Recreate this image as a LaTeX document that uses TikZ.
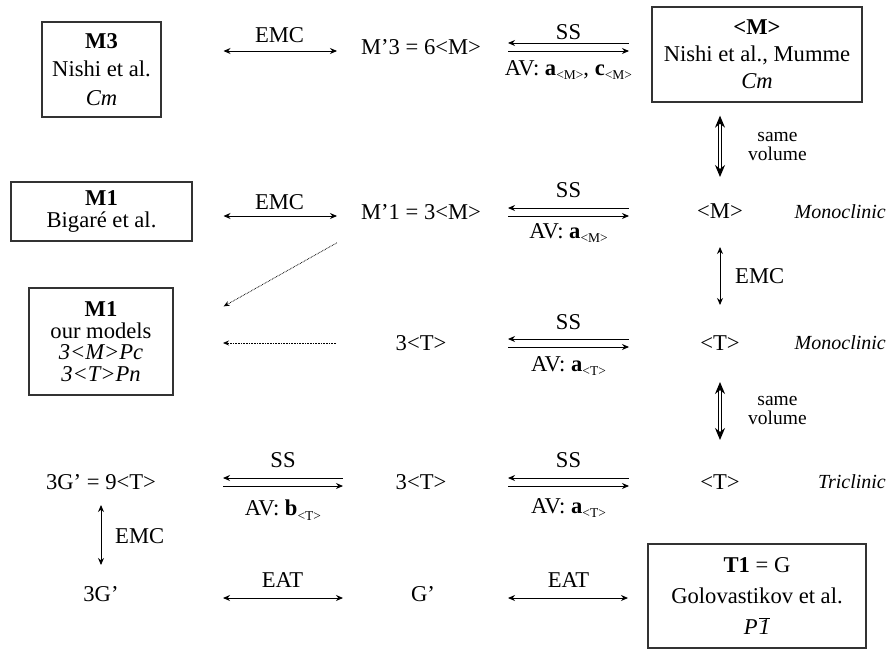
\documentclass[tikz,border=0pt]{standalone}
\usepackage{fontspec}
\setmainfont{Liberation Serif}
\usetikzlibrary{arrows.meta,positioning,calc}

\newcommand{\lsub}[1]{\raisebox{-4.5pt}{\fontsize{13.5}{14}\selectfont#1}}

\begin{document}
\begin{tikzpicture}[
    x=1pt, y=-1pt,
    every node/.style={font=\fontsize{22.6}{27}\selectfont, inner sep=1pt},
    box/.style={
        rectangle, draw=black!80, line width=1.3pt,
        align=center, inner sep=0pt
    },
    lbl/.style={inner sep=0pt},
    cls/.style={anchor=east, font=\fontsize{20}{24}\selectfont\itshape},
    vlbl/.style={anchor=west, align=center, inner sep=0pt},
    emc/.style={{Stealth[length=7pt,width=6pt]}-{Stealth[length=7pt,width=6pt]}, line width=0.9pt},
    ssl/.style={{Stealth[length=7pt,width=6pt]}-, line width=0.9pt},
    ssr/.style={-{Stealth[length=7pt,width=6pt]}, line width=0.9pt},
    vol/.style={{Stealth[length=12pt,width=10pt]}-{Stealth[length=12pt,width=10pt]},
        double, double distance=1.2pt, line width=1.2pt},
    dotarr/.style={-{Stealth[length=6pt,width=5pt]}, dash pattern=on 0.7pt off 0.9pt, line width=0.8pt},
    gapL/.style={shorten <=122pt, shorten >=84pt},
    gapR/.style={shorten <=87pt, shorten >=91pt},
]
\useasboundingbox (0,0) rectangle (893,650);

% Row 1: M3 / M'3 / <M> of Nishi
\node[box, minimum width=119pt, minimum height=95pt,
    font=\fontsize{22.6}{28.5}\selectfont] (m3) at (101.5,69.5)
    {\textbf{M3}\\Nishi et al.\\\textit{Cm}};
\node (mp3) at (421,47) {M’3 = 6<M>};
\node[box, minimum width=210pt, minimum height=95pt] (mavg) at (757,54.5)
    {\textbf{<M>}\\Nishi et al., Mumme\\\textit{Cm}};

% Row 2: Bigare / M'1 / <M>
\node[box, minimum width=181pt, minimum height=59pt,
    font=\fontsize{22.6}{21.5}\selectfont] (bigare) at (101.5,211.5)
    {\textbf{M1}\\Bigaré et al.};
\node (mp1) at (421,212) {M’1 = 3<M>};
\node (mM) at (720,211) {<M>};
\node[cls] (mono1) at (887,212) {Monoclinic};

% Row 3: our models / 3<T> / <T>
\node[box, minimum width=144pt, minimum height=107pt,
    font=\fontsize{22.6}{21.5}\selectfont] (models) at (101,341.5)
    {\textbf{M1}\\our models\\\textit{3<M>Pc}\\\textit{3<T>Pn}};
\node (t3) at (421,343) {3<T>};
\node (tM) at (720,343) {<T>};
\node[cls] (mono2) at (887,343) {Monoclinic};

% Row 4: 3G' / 3<T> / <T>
\node (g9) at (101,482) {3G’ = 9<T>};
\node (t4) at (421,482) {3<T>};
\node (tT) at (720,482) {<T>};
\node[cls] (tric) at (887,482) {Triclinic};

% Row 5: 3G' / G' / T1
\node (g3) at (101,594) {3G’};
\node (gp) at (423,594) {G’};
\node[box, minimum width=218pt, minimum height=104pt,
    font=\fontsize{22.6}{31}\selectfont] (t1) at (757,596)
    {\textbf{T1} = G\\Golovastikov et al.\\\textit{P}\kern1pt$\overline{\hbox{\textit{1}}}$};

% Labels
\node[lbl] (emc1) at (279.5,35) {EMC};
\node[lbl] (ss1) at (568.5,32) {SS};
\node[lbl] (av1) at (568.5,70) {AV: \textbf{a}\lsub{<M>}, \textbf{c}\lsub{<M>}};
\node[lbl] (emc2) at (279.5,202) {EMC};
\node[lbl] (ss2) at (568.5,190) {SS};
\node[lbl] (av2) at (568.5,233) {AV: \textbf{a}\lsub{<M>}};
\node[lbl] (ss3) at (568.5,322) {SS};
\node[lbl] (av3) at (568.5,366) {AV: \textbf{a}\lsub{<T>}};
\node[lbl] (ss4) at (283,460) {SS};
\node[lbl] (av4) at (283,510) {AV: \textbf{b}\lsub{<T>}};
\node[lbl] (ss5) at (568.5,460) {SS};
\node[lbl] (av5) at (568.5,508) {AV: \textbf{a}\lsub{<T>}};
\node[lbl] (eat1) at (282.5,580) {EAT};
\node[lbl] (eat2) at (568.5,580) {EAT};
\node[vlbl, font=\fontsize{19.5}{19}\selectfont] (vol1) at (748,147) {same\\volume};
\node[vlbl] (emc3) at (735,276) {EMC};
\node[vlbl, font=\fontsize{19.5}{19}\selectfont] (vol2) at (748,410) {same\\volume};
\node[vlbl] (emc4) at (115,536) {EMC};

% Horizontal links, left
\draw[emc, gapL] ($(mp3 -| m3)+(0,-4pt)$) -- ($(mp3)+(0,-4pt)$);
\draw[emc, gapL] ($(mp1 -| bigare)+(0,-4pt)$) -- ($(mp1)+(0,-4pt)$);
\draw[ssl, shorten <=122pt, shorten >=78pt] ($(g9)+(0,4pt)$) -- ($(t4)+(0,4pt)$);
\draw[ssr, shorten <=122pt, shorten >=78pt] ($(g9)+(0,-4pt)$) -- ($(t4)+(0,-4pt)$);
\draw[emc, shorten <=122pt, shorten >=80pt] ($(g3)+(0,-4pt)$) -- ($(gp)+(0,-4pt)$);

% Horizontal links, right
\draw[ssl, gapR] ($(mp3)+(0,4pt)$) -- ($(mp3 -| mM)+(0,4pt)$);
\draw[ssr, gapR] ($(mp3)+(0,-4pt)$) -- ($(mp3 -| mM)+(0,-4pt)$);
\draw[ssl, gapR] ($(mp1)+(0,4pt)$) -- ($(mp1 -| mM)+(0,4pt)$);
\draw[ssr, gapR] ($(mp1)+(0,-4pt)$) -- ($(mp1 -| mM)+(0,-4pt)$);
\draw[ssl, gapR] ($(t3)+(0,4pt)$) -- ($(tM)+(0,4pt)$);
\draw[ssr, gapR] ($(t3)+(0,-4pt)$) -- ($(tM)+(0,-4pt)$);
\draw[ssl, gapR] ($(t4)+(0,4pt)$) -- ($(tT)+(0,4pt)$);
\draw[ssr, gapR] ($(t4)+(0,-4pt)$) -- ($(tT)+(0,-4pt)$);
\draw[emc, shorten <=85pt, shorten >=92pt] ($(gp)+(0,-4pt)$) -- ($(gp -| tT)+(0,-4pt)$);

% Vertical links
\draw[vol, shorten <=13pt, shorten >=34pt] (mavg.south -| mM) -- (mM.center);
\draw[emc, shorten <=36pt, shorten >=38pt] (mM.center) -- (tM.center);
\draw[vol, shorten <=39pt, shorten >=42pt] (tM.center) -- (tT.center);
\draw[emc, shorten <=23pt, shorten >=29pt] (g9.center) -- (g3.center);

% Dotted links to our models
\draw[dotarr] ($(mp1.south west)+(-23pt,-22pt)$) -- ($(models.north east)+(50pt,-19pt)$);
\draw[dotarr, shorten <=85pt, shorten >=122pt] (t3.center) -- (t3 -| models);
\end{tikzpicture}
\end{document}
